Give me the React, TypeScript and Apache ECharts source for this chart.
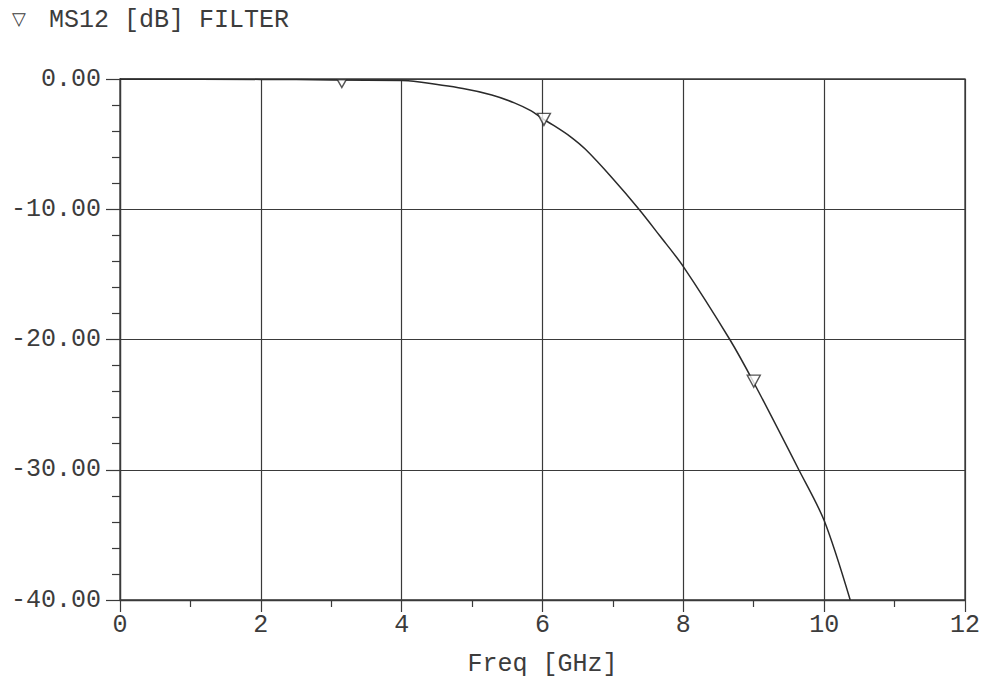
import React, { useEffect, useRef } from 'react';
import * as echarts from 'echarts';

// Curve MS12 [dB] vs frequency [GHz]
const freqGHz = [0, 2, 3, 4.0, 4.17, 4.87, 5.28, 5.6, 5.84, 6.0, 6.14, 6.39, 6.61, 6.99, 7.37, 7.66, 8.0, 8.66, 9.0, 9.64, 10.0, 10.37];
const ms12dB = [0, -0.03, -0.07, -0.12, -0.18, -0.73, -1.23, -1.83, -2.45, -3.05, -3.5, -4.4, -5.4, -7.6, -10, -12, -14.4, -20, -23.3, -30, -33.9, -40];

// Markers (▽)
const markerFreqGHz = [3.15, 6.02, 9.0];
const markerDb = [-0.35, -3.1, -23.2];

const titleText = 'MS12 [dB] FILTER';
const xAxisName = 'Freq [GHz]';

const FONT = '"Liberation Mono", "DejaVu Sans Mono", monospace';
const INK = '#2a2a2a';
const GRID_INK = '#3a3a3a';
const TEXT_INK = '#3c3c3c';

export default function App() {
  const ref = useRef<HTMLDivElement>(null);
  useEffect(() => {
    const chart = echarts.init(ref.current!, null, { renderer: 'svg' });
    chart.setOption({
      animation: false,
      backgroundColor: '#ffffff',
      textStyle: { fontFamily: FONT },
      grid: {
        left: 120,
        right: 12,
        top: 79,
        bottom: 82,
        show: true,
        borderColor: GRID_INK,
        borderWidth: 1.3,
        backgroundColor: 'transparent',
      },
      xAxis: {
        type: 'value',
        min: 0,
        max: 12,
        interval: 2,
        name: xAxisName,
        nameLocation: 'middle',
        nameGap: 52,
        nameTextStyle: { fontFamily: FONT, fontSize: 25, color: TEXT_INK },
        axisLine: { show: true, onZero: false, lineStyle: { color: GRID_INK, width: 1.3 } },
        axisTick: { show: true, inside: false, length: 12, lineStyle: { color: GRID_INK, width: 1.2 } },
        minorTick: { show: true, splitNumber: 2, length: 7, lineStyle: { color: GRID_INK, width: 1.2 } },
        splitLine: { show: true, lineStyle: { color: GRID_INK, width: 1.2 } },
        axisLabel: { fontFamily: FONT, fontSize: 25, color: TEXT_INK, margin: 13 },
      },
      yAxis: {
        type: 'value',
        min: -40,
        max: 0,
        interval: 10,
        axisLine: { show: true, onZero: false, lineStyle: { color: GRID_INK, width: 1.3 } },
        axisTick: { show: true, inside: false, length: 14, lineStyle: { color: GRID_INK, width: 1.2 } },
        minorTick: { show: true, splitNumber: 5, length: 8, lineStyle: { color: GRID_INK, width: 1.2 } },
        splitLine: { show: true, lineStyle: { color: GRID_INK, width: 1.2 } },
        axisLabel: {
          fontFamily: FONT,
          fontSize: 25,
          color: TEXT_INK,
          margin: 19,
          formatter: (v: number) => v.toFixed(2),
        },
      },
      series: [
        {
          type: 'line',
          name: 'MS12',
          data: freqGHz.map((f, i) => [f, ms12dB[i]]),
          showSymbol: false,
          smooth: 0.3,
          clip: true,
          lineStyle: { color: INK, width: 1.5 },
          z: 3,
        },
        {
          type: 'scatter',
          name: 'markers',
          data: markerFreqGHz.map((f, i) => [f, markerDb[i]]),
          symbol: 'triangle',
          symbolRotate: 180,
          symbolSize: (_v: any, p: any) => (p.dataIndex === 0 ? [9, 8] : [13, 12]),
          itemStyle: { color: '#ffffff', borderColor: INK, borderWidth: 1.4 },
          z: 4,
        },
      ],
      graphic: [
        {
          type: 'text',
          left: 12,
          top: 9,
          style: { text: '▽', fontFamily: '"DejaVu Sans", sans-serif', fontSize: 18, fill: TEXT_INK },
        },
        {
          type: 'text',
          left: 49,
          top: 8,
          style: { text: titleText, fontFamily: FONT, fontSize: 25, fill: TEXT_INK },
        },
      ],
    });
    return () => chart.dispose();
  }, []);
  return <div ref={ref} style={{ position: 'fixed', left: 0, top: 0, width: 983, height: 682 }} />;
}
